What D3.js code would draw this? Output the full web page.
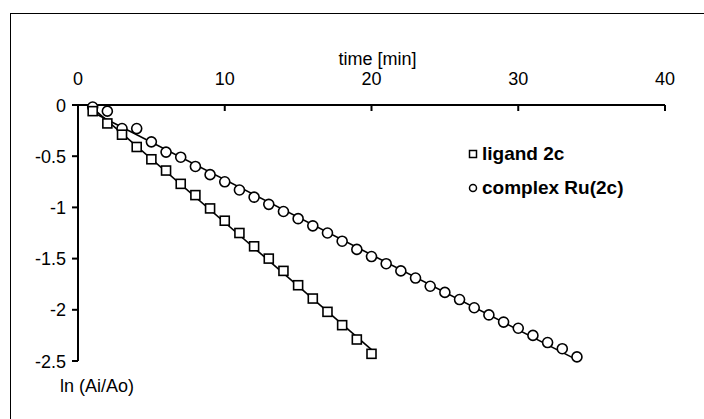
<!DOCTYPE html>
<html>
<head>
<meta charset="utf-8">
<script src="https://cdn.jsdelivr.net/npm/d3@7"></script>
<style>
  body { margin: 0; background: #fff; }
  svg text { font-family: Arial, "Liberation Sans", sans-serif; fill: #000; }
</style>
</head>
<body>
<div id="chart"></div>
<script>
// datos
const ligandTime = d3.range(1, 21);
const ligandLn = [-0.06, -0.18, -0.29, -0.41, -0.53, -0.64, -0.77, -0.88, -1.01, -1.13,
                  -1.25, -1.38, -1.50, -1.62, -1.76, -1.89, -2.02, -2.15, -2.29, -2.43];

const complexTime = d3.range(1, 35);
const complexLn = [-0.02, -0.06, -0.23, -0.23, -0.36, -0.46, -0.51, -0.60, -0.68, -0.75,
                   -0.83, -0.90, -0.97, -1.04, -1.11, -1.18, -1.25, -1.33, -1.41, -1.48,
                   -1.55, -1.62, -1.69, -1.77, -1.83, -1.90, -1.98, -2.05, -2.12, -2.18,
                   -2.25, -2.32, -2.38, -2.46];

const xTicks = [0, 10, 20, 30, 40];
const yTicks = [0, -0.5, -1, -1.5, -2, -2.5];
const seriesNames = ["ligand 2c", "complex Ru(2c)"];

const width = 704, height = 419;

const svg = d3.select("#chart").append("svg")
  .attr("width", width).attr("height", height);

// marco del grafico
svg.append("rect")
  .attr("x", 10.5).attr("y", 13.5)
  .attr("width", 720).attr("height", 440)
  .attr("fill", "none").attr("stroke", "#000").attr("stroke-width", 1);

const x = d3.scaleLinear().domain([0, 40]).range([78, 665]);
const y = d3.scaleLinear().domain([0, -2.5]).range([105, 361]);

// eje x arriba, ticks hacia abajo
svg.append("line")
  .attr("x1", x(0)).attr("x2", x(40)).attr("y1", y(0)).attr("y2", y(0))
  .attr("stroke", "#000").attr("stroke-width", 2);
svg.selectAll(".xtick").data(xTicks).enter().append("line")
  .attr("x1", d => x(d)).attr("x2", d => x(d))
  .attr("y1", y(0)).attr("y2", y(0) + 6)
  .attr("stroke", "#000").attr("stroke-width", 2);
svg.selectAll(".xlab").data(xTicks).enter().append("text")
  .attr("x", d => x(d)).attr("y", 85)
  .attr("text-anchor", "middle").attr("font-size", 18)
  .text(d => d);

svg.append("text")
  .attr("x", x(20) + 6).attr("y", 65)
  .attr("text-anchor", "middle").attr("font-size", 18)
  .text("time [min]");

// eje y
svg.append("line")
  .attr("x1", x(0)).attr("x2", x(0)).attr("y1", y(0)).attr("y2", y(-2.5))
  .attr("stroke", "#000").attr("stroke-width", 2);
svg.selectAll(".ytick").data(yTicks).enter().append("line")
  .attr("x1", x(0) - 6).attr("x2", x(0))
  .attr("y1", d => y(d)).attr("y2", d => y(d))
  .attr("stroke", "#000").attr("stroke-width", 2);
svg.selectAll(".ylab").data(yTicks).enter().append("text")
  .attr("x", 66).attr("y", d => y(d) + 6.5)
  .attr("text-anchor", "end").attr("font-size", 18)
  .text(d => d);

svg.append("text")
  .attr("x", 60).attr("y", 392)
  .attr("font-size", 18)
  .text("ln (Ai/Ao)");

// linea de tendencia por minimos cuadrados
function fit(xs, ys) {
  const mx = d3.mean(xs), my = d3.mean(ys);
  const b = d3.sum(xs, (v, i) => (v - mx) * (ys[i] - my)) / d3.sum(xs, v => (v - mx) * (v - mx));
  return { a: my - b * mx, b: b };
}

function trend(xs, ys) {
  const f = fit(xs, ys);
  const x0 = d3.min(xs), x1 = d3.max(xs);
  svg.append("line")
    .attr("x1", x(x0)).attr("y1", y(f.a + f.b * x0))
    .attr("x2", x(x1)).attr("y2", y(f.a + f.b * x1))
    .attr("stroke", "#000").attr("stroke-width", 1.6);
}

trend(ligandTime, ligandLn);
trend(complexTime, complexLn);

const complexPts = complexTime.map((t, i) => [t, complexLn[i]]);
const ligandPts = ligandTime.map((t, i) => [t, ligandLn[i]]);

svg.selectAll(".circ").data(complexPts).enter().append("circle")
  .attr("cx", d => x(d[0])).attr("cy", d => y(d[1]))
  .attr("r", 5)
  .attr("fill", "#fff").attr("stroke", "#000").attr("stroke-width", 1.6);

svg.selectAll(".sq").data(ligandPts).enter().append("rect")
  .attr("x", d => x(d[0]) - 4.5).attr("y", d => y(d[1]) - 4.5)
  .attr("width", 9).attr("height", 9)
  .attr("fill", "#fff").attr("stroke", "#000").attr("stroke-width", 1.6);

// leyenda
svg.append("rect")
  .attr("x", 469.5).attr("y", 150.5).attr("width", 7).attr("height", 7)
  .attr("fill", "#fff").attr("stroke", "#000").attr("stroke-width", 1.5);
svg.append("circle")
  .attr("cx", 473).attr("cy", 188).attr("r", 3.5)
  .attr("fill", "#fff").attr("stroke", "#000").attr("stroke-width", 1.5);

svg.selectAll(".leg").data(seriesNames).enter().append("text")
  .attr("x", 482).attr("y", (d, i) => 160 + i * 34)
  .attr("font-size", 19).attr("font-weight", "bold")
  .text(d => d);
</script>
</body>
</html>
